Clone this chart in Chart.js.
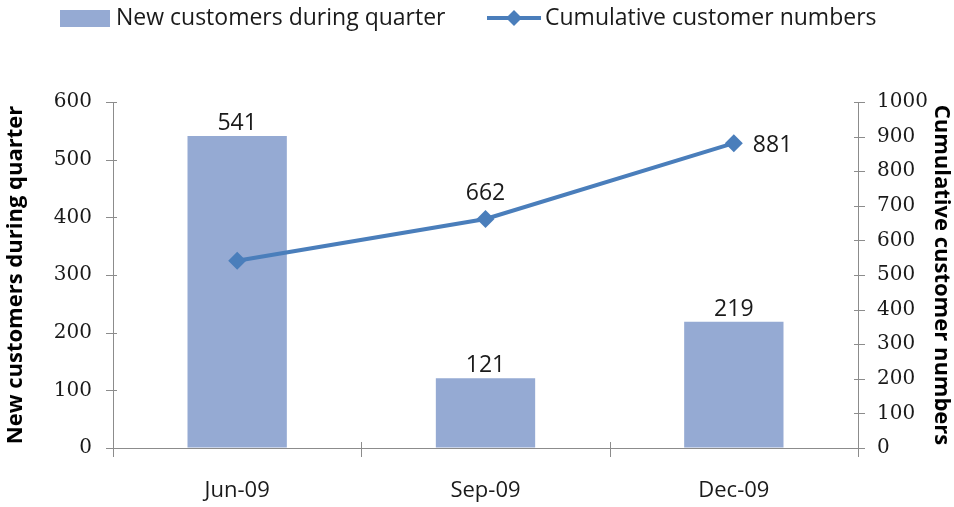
<!DOCTYPE html>
<html lang="en">
<head>
    <meta charset="UTF-8">
    <title>Customer Numbers</title>
    <style>
        html, body { margin: 0; padding: 0; background: #fff; }
        #chartContainer { position: relative; width: 954px; height: 507px; }
    </style>
</head>
<body>
    <div id="chartContainer">
        <canvas id="customerChart"></canvas>
    </div>

    <script src="https://cdn.jsdelivr.net/npm/chart.js"></script>
    <script>
        // Data
        const quarters = ['Jun-09', 'Sep-09', 'Dec-09'];
        const newCustomers = [541, 121, 219];
        const cumulativeCustomers = [541, 662, 881];
        // which line points get a value label, and where
        const lineLabelPos = [null, 'top', 'right'];

        const barColor = '#95AAD3';
        const lineColor = '#4A7EBB';
        const axisColor = '#8C8C8C';
        const sansFont = '"Open Sans", sans-serif';
        const serifFont = '"DejaVu Serif", serif';

        // legend, value labels and crossing tick marks
        const extrasPlugin = {
            id: 'extras',
            afterDraw(chart) {
                const ctx = chart.ctx;
                const area = chart.chartArea;
                ctx.save();

                // cross ticks on the axes
                ctx.strokeStyle = axisColor;
                ctx.lineWidth = 1;
                const yL = chart.scales.y;
                const yR = chart.scales.y1;
                ctx.beginPath();
                yL.ticks.forEach(t => {
                    const py = Math.round(yL.getPixelForValue(t.value)) + 0.5;
                    ctx.moveTo(area.left - 7, py);
                    ctx.lineTo(area.left + 4, py);
                });
                yR.ticks.forEach(t => {
                    const py = Math.round(yR.getPixelForValue(t.value)) + 0.5;
                    ctx.moveTo(area.right - 4, py);
                    ctx.lineTo(area.right + 7, py);
                });
                for (let i = 0; i <= quarters.length; i++) {
                    const px = Math.round(area.left + i * (area.right - area.left) / quarters.length) + 0.5;
                    ctx.moveTo(px, area.bottom - 6);
                    ctx.lineTo(px, area.bottom + 9);
                }
                ctx.stroke();

                // value labels
                ctx.fillStyle = '#1a1a1a';
                ctx.font = '23px ' + sansFont;
                ctx.textAlign = 'center';
                ctx.textBaseline = 'bottom';
                chart.getDatasetMeta(0).data.forEach((bar, i) => {
                    ctx.fillText(String(newCustomers[i]), bar.x, bar.y - 1);
                });
                chart.getDatasetMeta(1).data.forEach((pt, i) => {
                    const pos = lineLabelPos[i];
                    if (pos === 'top') {
                        ctx.textAlign = 'center';
                        ctx.textBaseline = 'bottom';
                        ctx.fillText(String(cumulativeCustomers[i]), pt.x, pt.y - 14);
                    } else if (pos === 'right') {
                        ctx.textAlign = 'left';
                        ctx.textBaseline = 'middle';
                        ctx.fillText(String(cumulativeCustomers[i]), pt.x + 19, pt.y + 2);
                    }
                });

                // legend
                const ly = 18;
                ctx.fillStyle = barColor;
                ctx.fillRect(60, 10, 50, 17);
                ctx.fillStyle = '#1a1a1a';
                ctx.textAlign = 'left';
                ctx.textBaseline = 'middle';
                ctx.fillText(chart.data.datasets[0].label, 116, ly);

                ctx.strokeStyle = lineColor;
                ctx.lineWidth = 4;
                ctx.beginPath();
                ctx.moveTo(487, ly);
                ctx.lineTo(541, ly);
                ctx.stroke();
                ctx.fillStyle = lineColor;
                ctx.beginPath();
                ctx.moveTo(514, ly - 8);
                ctx.lineTo(522, ly);
                ctx.lineTo(514, ly + 8);
                ctx.lineTo(506, ly);
                ctx.closePath();
                ctx.fill();
                ctx.fillStyle = '#1a1a1a';
                ctx.fillText(chart.data.datasets[1].label, 545, ly);

                ctx.restore();
            }
        };

        const ctx = document.getElementById('customerChart').getContext('2d');
        const chart = new Chart(ctx, {
            data: {
                labels: quarters,
                datasets: [
                    {
                        type: 'bar',
                        label: 'New customers during quarter',
                        data: newCustomers,
                        yAxisID: 'y',
                        backgroundColor: barColor,
                        barPercentage: 0.8,
                        categoryPercentage: 0.5,
                        order: 1
                    },
                    {
                        type: 'line',
                        label: 'Cumulative customer numbers',
                        data: cumulativeCustomers,
                        yAxisID: 'y1',
                        borderColor: lineColor,
                        backgroundColor: lineColor,
                        borderWidth: 4,
                        pointStyle: 'rectRot',
                        pointRadius: 9,
                        pointBorderWidth: 0,
                        tension: 0,
                        order: 0
                    }
                ]
            },
            plugins: [extrasPlugin],
            options: {
                responsive: true,
                maintainAspectRatio: false,
                animation: false,
                events: [],
                layout: { padding: { top: 102, left: 0, right: 0, bottom: 0 } },
                plugins: {
                    legend: { display: false },
                    tooltip: { enabled: false }
                },
                scales: {
                    x: {
                        grid: { display: false },
                        border: { color: axisColor, width: 1 },
                        ticks: {
                            color: '#1a1a1a',
                            font: { family: sansFont, size: 22 },
                            padding: 22
                        },
                        afterFit: s => { s.height = 59; }
                    },
                    y: {
                        position: 'left',
                        min: 0,
                        max: 600,
                        grid: { display: true, drawOnChartArea: false, drawTicks: false, color: 'rgba(0,0,0,0)' },
                        border: { color: axisColor, width: 1 },
                        ticks: {
                            stepSize: 100,
                            color: '#1a1a1a',
                            font: { family: serifFont, size: 20 },
                            padding: 21,
                            callback: v => String(v)
                        },
                        title: {
                            display: true,
                            text: 'New customers during quarter',
                            color: '#000',
                            font: { family: sansFont, size: 22, weight: 'bold' },
                            padding: { top: 3, bottom: 0 }
                        },
                        afterFit: s => { s.width = 113; }
                    },
                    y1: {
                        position: 'right',
                        min: 0,
                        max: 1000,
                        grid: { display: true, drawOnChartArea: false, drawTicks: false, color: 'rgba(0,0,0,0)' },
                        border: { color: axisColor, width: 1 },
                        ticks: {
                            stepSize: 100,
                            color: '#1a1a1a',
                            font: { family: serifFont, size: 20 },
                            padding: 19,
                            callback: v => String(v)
                        },
                        title: {
                            display: true,
                            text: 'Cumulative customer numbers',
                            color: '#000',
                            font: { family: sansFont, size: 22, weight: 'bold' },
                            padding: { top: 0, bottom: 3 }
                        },
                        afterFit: s => { s.width = 96; }
                    }
                }
            }
        });
    </script>
</body>
</html>
